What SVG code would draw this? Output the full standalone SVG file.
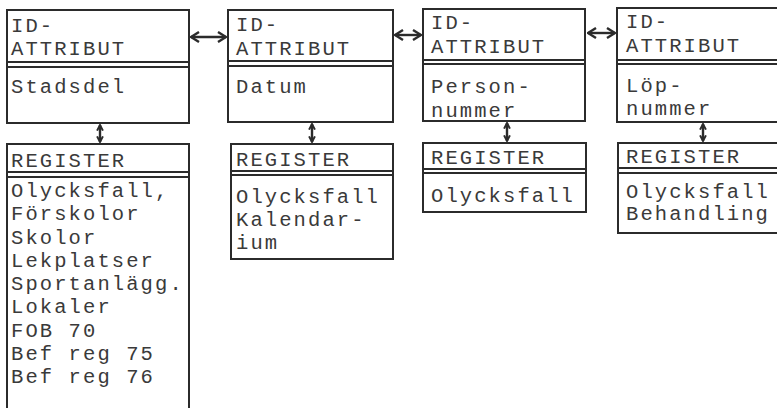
<svg xmlns="http://www.w3.org/2000/svg" width="777" height="408" viewBox="0 0 777 408">
<style>
.box{fill:none;stroke:#2b2b2b;stroke-width:2}
.sep{stroke:#2b2b2b;stroke-width:2}
.t{font-family:"Liberation Mono","Courier New",monospace;font-size:20.5px;letter-spacing:2.1px;fill:#3a3a3a}
.c{stroke:#2b2b2b;stroke-width:2.4;fill:none}
</style>
<defs>
<marker id="ah" viewBox="0 0 10 12" refX="9" refY="6" markerWidth="10" markerHeight="12" markerUnits="userSpaceOnUse" orient="auto-start-reverse">
<path d="M1,1 L9,6 L1,11" fill="none" stroke="#2b2b2b" stroke-width="2.4"/>
</marker>
<marker id="av" viewBox="0 0 10 10" refX="9" refY="5" markerWidth="7" markerHeight="10" markerUnits="userSpaceOnUse" orient="auto-start-reverse">
<path d="M1,0.8 L9,5 L1,9.2" fill="none" stroke="#2b2b2b" stroke-width="2.8"/>
</marker>
</defs>
<rect width="777" height="408" fill="#ffffff"/>
<g id="connectors">
<line class="c" x1="191" y1="37" x2="226" y2="37" marker-start="url(#ah)" marker-end="url(#ah)"/>
<line class="c" x1="395" y1="35" x2="421" y2="35" marker-start="url(#ah)" marker-end="url(#ah)"/>
<line class="c" x1="588" y1="33" x2="615" y2="33" marker-start="url(#ah)" marker-end="url(#ah)"/>
<line class="c" x1="100" y1="125" x2="100" y2="142" marker-start="url(#av)" marker-end="url(#av)"/>
<line class="c" x1="312" y1="124" x2="312" y2="142" marker-start="url(#av)" marker-end="url(#av)"/>
<line class="c" x1="507" y1="123" x2="507" y2="141" marker-start="url(#av)" marker-end="url(#av)"/>
<line class="c" x1="703" y1="124" x2="703" y2="141" marker-start="url(#av)" marker-end="url(#av)"/>
</g>
<g id="id1">
<rect class="box" x="7" y="10" width="182" height="113"/>
<line class="sep" x1="7" y1="62" x2="189" y2="62"/>
<line class="sep" x1="7" y1="67" x2="189" y2="67"/>
<text class="t" x="11" y="32">ID-</text>
<text class="t" x="11" y="55">ATTRIBUT</text>
<text class="t" x="11" y="93">Stadsdel</text>
</g>
<g id="id2">
<rect class="box" x="228" y="10" width="165" height="112"/>
<line class="sep" x1="228" y1="61" x2="393" y2="61"/>
<line class="sep" x1="228" y1="66" x2="393" y2="66"/>
<text class="t" x="236" y="31">ID-</text>
<text class="t" x="236" y="55">ATTRIBUT</text>
<text class="t" x="236" y="93">Datum</text>
</g>
<g id="id3">
<rect class="box" x="423" y="9" width="162" height="112"/>
<line class="sep" x1="423" y1="60" x2="585" y2="60"/>
<line class="sep" x1="423" y1="64" x2="585" y2="64"/>
<text class="t" x="431" y="29">ID-</text>
<text class="t" x="431" y="53">ATTRIBUT</text>
<text class="t" x="431" y="93">Person-</text>
<text class="t" x="431" y="117">nummer</text>
</g>
<g id="id4">
<rect class="box" x="617" y="8" width="200" height="114"/>
<line class="sep" x1="617" y1="60" x2="777" y2="60"/>
<line class="sep" x1="617" y1="64" x2="777" y2="64"/>
<text class="t" x="626" y="28">ID-</text>
<text class="t" x="626" y="52">ATTRIBUT</text>
<text class="t" x="626" y="92">Löp-</text>
<text class="t" x="626" y="115">nummer</text>
</g>
<g id="reg1">
<rect class="box" x="7" y="144" width="182" height="280"/>
<line class="sep" x1="7" y1="172" x2="189" y2="172"/>
<line class="sep" x1="7" y1="177" x2="189" y2="177"/>
<text class="t" x="11" y="167">REGISTER</text>
<text class="t" x="11" y="197">Olycksfall,</text>
<text class="t" x="11" y="220">Förskolor</text>
<text class="t" x="11" y="244">Skolor</text>
<text class="t" x="11" y="267">Lekplatser</text>
<text class="t" x="11" y="290">Sportanlägg.</text>
<text class="t" x="11" y="313">Lokaler</text>
<text class="t" x="11" y="337">FOB 70</text>
<text class="t" x="11" y="360">Bef reg 75</text>
<text class="t" x="11" y="383">Bef reg 76</text>
</g>
<g id="reg2">
<rect class="box" x="231" y="144" width="162" height="115"/>
<line class="sep" x1="231" y1="171" x2="393" y2="171"/>
<line class="sep" x1="231" y1="175" x2="393" y2="175"/>
<text class="t" x="236" y="166">REGISTER</text>
<text class="t" x="236" y="203">Olycksfall</text>
<text class="t" x="236" y="226">Kalendar-</text>
<text class="t" x="236" y="249">ium</text>
</g>
<g id="reg3">
<rect class="box" x="423" y="143" width="163" height="69"/>
<line class="sep" x1="423" y1="169" x2="586" y2="169"/>
<line class="sep" x1="423" y1="173" x2="586" y2="173"/>
<text class="t" x="431" y="164">REGISTER</text>
<text class="t" x="431" y="202">Olycksfall</text>
</g>
<g id="reg4">
<rect class="box" x="618" y="143" width="200" height="90"/>
<line class="sep" x1="618" y1="168" x2="777" y2="168"/>
<line class="sep" x1="618" y1="173" x2="777" y2="173"/>
<text class="t" x="626" y="163">REGISTER</text>
<text class="t" x="626" y="198">Olycksfall</text>
<text class="t" x="626" y="220">Behandling</text>
</g>
</svg>
